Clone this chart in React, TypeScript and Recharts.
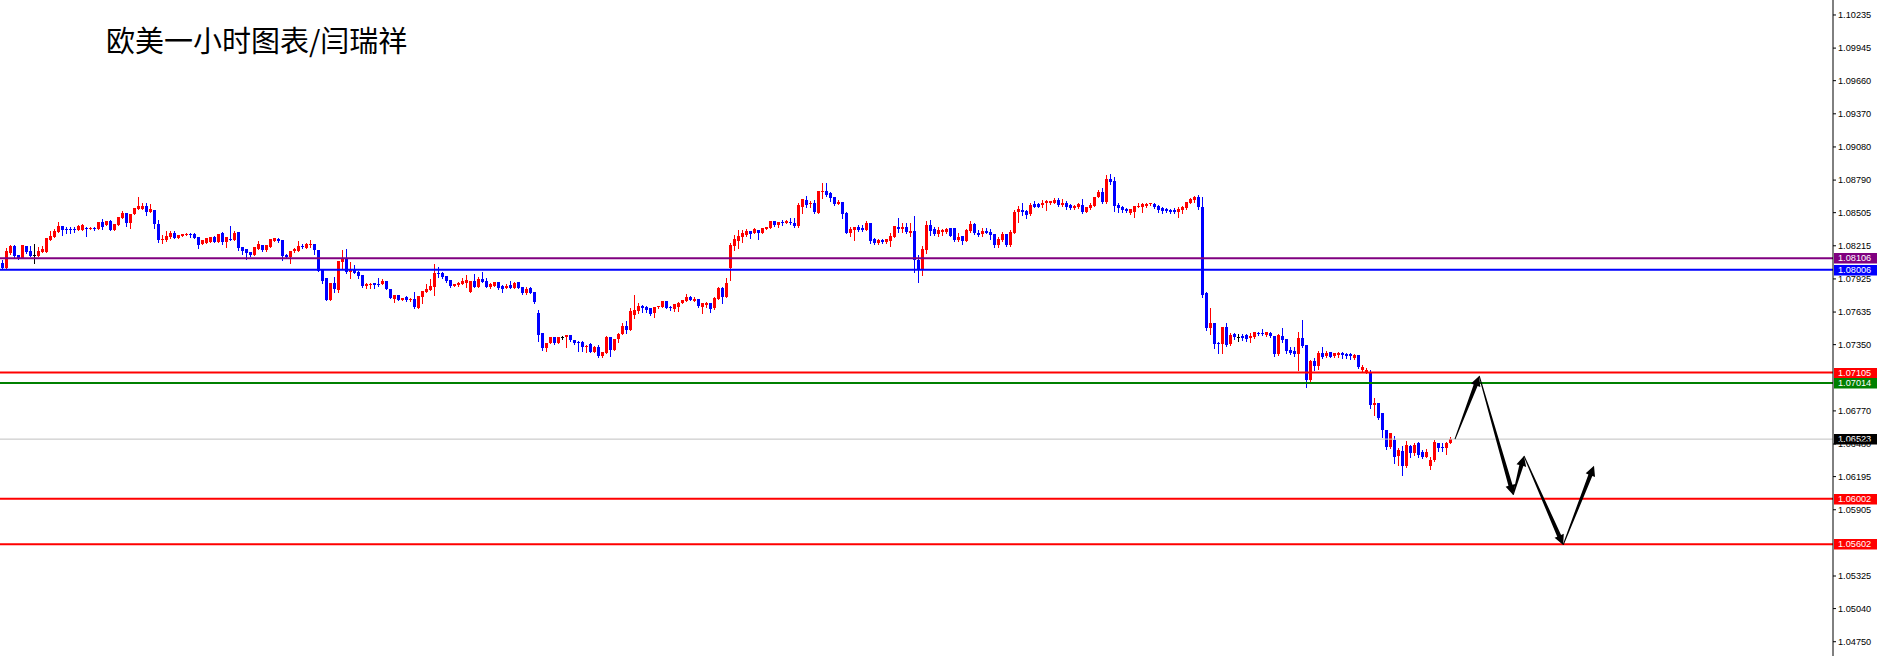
import React from "react";
import { ComposedChart, Bar, XAxis, YAxis, ReferenceLine } from "recharts";

// EURUSD H1 candles (oldest first)
const opens = [
  1.08065, 1.08021, 1.08152, 1.08214, 1.08135, 1.08108, 1.08214, 1.0817, 1.08135, 1.08126,
  1.08161, 1.08161, 1.08266, 1.08292, 1.08336, 1.08389, 1.08362, 1.08362, 1.08362, 1.08354,
  1.08354, 1.08371, 1.08362, 1.08371, 1.08362, 1.08424, 1.08397, 1.08432, 1.08354, 1.08397,
  1.08458, 1.08502, 1.08415, 1.08494, 1.08537, 1.08537, 1.08564, 1.08511, 1.08529, 1.08406,
  1.08266, 1.08266, 1.08292, 1.08327, 1.08284, 1.08301, 1.0831, 1.08319, 1.08319, 1.08292,
  1.08231, 1.0824, 1.08249, 1.08292, 1.08249, 1.08327, 1.08249, 1.08275, 1.08266, 1.08336,
  1.08205, 1.08187, 1.08161, 1.08135, 1.08187, 1.08222, 1.08179, 1.08205, 1.08257, 1.08275,
  1.08266, 1.08135, 1.08117, 1.0817, 1.0817, 1.08214, 1.08196, 1.08222, 1.08231, 1.08179,
  1.08004, 1.07934, 1.07741, 1.0789, 1.07829, 1.08074, 1.08108, 1.07986, 1.08012, 1.07986,
  1.0796, 1.07864, 1.07872, 1.0789, 1.07881, 1.07881, 1.07907, 1.07837, 1.0775, 1.07785,
  1.07741, 1.07767, 1.07741, 1.0775, 1.07671, 1.07767, 1.07811, 1.07829, 1.07855, 1.07977,
  1.07977, 1.07951, 1.07916, 1.07864, 1.07872, 1.07881, 1.0789, 1.07811, 1.07907, 1.07855,
  1.07925, 1.07907, 1.07855, 1.07864, 1.07899, 1.07864, 1.07846, 1.07872, 1.07846, 1.07899,
  1.07855, 1.07802, 1.07846, 1.07811, 1.07627, 1.07452, 1.07321, 1.07365, 1.07417, 1.07365,
  1.07417, 1.07417, 1.07435, 1.07391, 1.07374, 1.07374, 1.0733, 1.07356, 1.07286, 1.0733,
  1.07251, 1.07277, 1.07417, 1.07304, 1.074, 1.07444, 1.07514, 1.07479, 1.0761, 1.07645,
  1.07689, 1.0768, 1.07671, 1.07627, 1.0768, 1.0768, 1.07732, 1.0768, 1.07662, 1.0768,
  1.07715, 1.07732, 1.07767, 1.07732, 1.0775, 1.0768, 1.07697, 1.07715, 1.07671, 1.0775,
  1.07846, 1.07767, 1.08021, 1.08214, 1.08257, 1.08292, 1.0831, 1.08345, 1.08327, 1.08354,
  1.08327, 1.08362, 1.08371, 1.08432, 1.08397, 1.08424, 1.08415, 1.08424, 1.08415, 1.08389,
  1.08555, 1.08616, 1.08581, 1.0859, 1.08502, 1.08686, 1.08695, 1.08677, 1.08642, 1.08581,
  1.08599, 1.08502, 1.08327, 1.08354, 1.0838, 1.08371, 1.08354, 1.08415, 1.08275, 1.0824,
  1.08266, 1.08249, 1.08257, 1.08292, 1.0838, 1.08362, 1.0838, 1.08327, 1.08345, 1.08091,
  1.08004, 1.08179, 1.08397, 1.08362, 1.08319, 1.08336, 1.08336, 1.08371, 1.08371, 1.08266,
  1.08301, 1.08257, 1.08345, 1.08406, 1.08327, 1.08319, 1.08345, 1.08336, 1.08319, 1.08222,
  1.08266, 1.08319, 1.08222, 1.08327, 1.08511, 1.08529, 1.0852, 1.08494, 1.08581, 1.08581,
  1.08572, 1.0859, 1.0859, 1.0859, 1.08616, 1.08572, 1.0859, 1.08572, 1.08546, 1.08555,
  1.08572, 1.08511, 1.08546, 1.08564, 1.08642, 1.08686, 1.08599, 1.088, 1.08782, 1.08572,
  1.08555, 1.08537, 1.08502, 1.08511, 1.08555, 1.08555, 1.08564, 1.08581, 1.08581, 1.08564,
  1.08546, 1.08537, 1.08529, 1.08529, 1.08511, 1.08529, 1.08546, 1.0859, 1.08616, 1.08642,
  1.08555, 1.07802, 1.07496, 1.0754, 1.07365, 1.07356, 1.07505, 1.07356, 1.07444, 1.07417,
  1.07426, 1.07435, 1.07409, 1.07417, 1.07452, 1.07452, 1.07435, 1.07452, 1.07426, 1.07269,
  1.07426, 1.074, 1.07304, 1.07295, 1.07269, 1.07409, 1.07347, 1.07041, 1.07207, 1.07164,
  1.07277, 1.07251, 1.07286, 1.07251, 1.0726, 1.07277, 1.07269, 1.07269, 1.07234, 1.0726,
  1.07129, 1.07111, 1.07111, 1.06822, 1.0684, 1.06752, 1.06604, 1.06455, 1.06516, 1.06376,
  1.0642, 1.06289, 1.06464, 1.06402, 1.0649, 1.06411, 1.06367, 1.06289, 1.06341, 1.0649,
  1.06455, 1.06446, 1.0649,
];

const highs = [
  1.08091, 1.08196, 1.08222, 1.08222, 1.08135, 1.08222, 1.08214, 1.08214, 1.08231, 1.08205,
  1.08214, 1.08284, 1.08345, 1.08362, 1.08424, 1.08389, 1.0838, 1.0838, 1.0838, 1.08397,
  1.08406, 1.0838, 1.0838, 1.0838, 1.08424, 1.0845, 1.08432, 1.08441, 1.08406, 1.08467,
  1.0852, 1.08502, 1.08494, 1.08546, 1.08642, 1.0859, 1.0859, 1.08581, 1.08529, 1.08441,
  1.0831, 1.08345, 1.08345, 1.08345, 1.0831, 1.08319, 1.08327, 1.08327, 1.08327, 1.08292,
  1.08266, 1.08284, 1.08292, 1.08301, 1.08319, 1.08336, 1.08292, 1.08389, 1.08345, 1.08336,
  1.08205, 1.08187, 1.08161, 1.08205, 1.08257, 1.08222, 1.08222, 1.08275, 1.08284, 1.08284,
  1.08266, 1.08143, 1.0817, 1.08196, 1.08257, 1.08231, 1.0824, 1.08266, 1.08231, 1.08179,
  1.08004, 1.07934, 1.0789, 1.07942, 1.08082, 1.08179, 1.08187, 1.08074, 1.08047, 1.07995,
  1.0796, 1.0789, 1.0789, 1.0789, 1.07934, 1.07925, 1.07907, 1.07837, 1.07785, 1.07785,
  1.07758, 1.07776, 1.07758, 1.07811, 1.07776, 1.0782, 1.07881, 1.07925, 1.08056, 1.0803,
  1.07986, 1.07951, 1.07916, 1.07881, 1.07899, 1.07934, 1.0796, 1.07907, 1.07969, 1.07942,
  1.07986, 1.07934, 1.0789, 1.07899, 1.07899, 1.07872, 1.07881, 1.07907, 1.07899, 1.07899,
  1.07855, 1.07855, 1.07855, 1.07811, 1.07654, 1.07452, 1.07365, 1.07417, 1.07417, 1.07417,
  1.07426, 1.07435, 1.07435, 1.07391, 1.07382, 1.07382, 1.07347, 1.07365, 1.07339, 1.07347,
  1.07286, 1.07426, 1.07417, 1.074, 1.07452, 1.0754, 1.07557, 1.07671, 1.07785, 1.07715,
  1.07697, 1.07689, 1.07671, 1.0768, 1.07689, 1.07732, 1.07732, 1.07689, 1.07706, 1.07724,
  1.07741, 1.07794, 1.07776, 1.07767, 1.0775, 1.07715, 1.07724, 1.07715, 1.07767, 1.07855,
  1.07855, 1.07934, 1.0824, 1.0831, 1.08354, 1.08354, 1.08362, 1.08345, 1.08371, 1.08354,
  1.08371, 1.0838, 1.08432, 1.08432, 1.08424, 1.08441, 1.08441, 1.08458, 1.08458, 1.0859,
  1.08625, 1.08651, 1.08607, 1.08616, 1.08695, 1.08765, 1.08765, 1.08686, 1.08642, 1.08616,
  1.08599, 1.08511, 1.0838, 1.0838, 1.08397, 1.08397, 1.08432, 1.08415, 1.08284, 1.08275,
  1.08275, 1.08275, 1.08327, 1.08389, 1.08458, 1.08415, 1.08415, 1.08415, 1.08476, 1.08135,
  1.08214, 1.08432, 1.08441, 1.0838, 1.0838, 1.08362, 1.08371, 1.08371, 1.08371, 1.08327,
  1.08301, 1.08362, 1.08432, 1.08415, 1.08354, 1.08371, 1.08371, 1.08362, 1.08319, 1.08292,
  1.08336, 1.08319, 1.08354, 1.08529, 1.08564, 1.0859, 1.08529, 1.0859, 1.08607, 1.0859,
  1.08616, 1.08616, 1.08607, 1.08634, 1.08634, 1.08625, 1.08607, 1.08581, 1.08572, 1.0859,
  1.08625, 1.08555, 1.0859, 1.08642, 1.08704, 1.08721, 1.08835, 1.08844, 1.08817, 1.0859,
  1.08564, 1.08546, 1.08537, 1.08564, 1.0859, 1.0859, 1.0859, 1.0859, 1.0859, 1.08572,
  1.08555, 1.08546, 1.08537, 1.08546, 1.08555, 1.08564, 1.08599, 1.08634, 1.08651, 1.0866,
  1.08642, 1.07811, 1.07671, 1.0754, 1.07374, 1.07505, 1.0754, 1.07452, 1.07452, 1.07444,
  1.07444, 1.07444, 1.07452, 1.07461, 1.07461, 1.07487, 1.07461, 1.07461, 1.07426, 1.07444,
  1.07496, 1.074, 1.0733, 1.0733, 1.07461, 1.07566, 1.07347, 1.07216, 1.07234, 1.07295,
  1.0733, 1.07295, 1.07286, 1.07277, 1.07286, 1.07286, 1.07277, 1.07277, 1.07269, 1.0726,
  1.07172, 1.07146, 1.07129, 1.06883, 1.0684, 1.06752, 1.06604, 1.06577, 1.06551, 1.06446,
  1.06464, 1.06507, 1.06472, 1.0649, 1.06499, 1.06429, 1.06437, 1.06367, 1.06516, 1.0649,
  1.0649, 1.06499, 1.06542,
];

const lows = [
  1.08012, 1.08012, 1.08143, 1.08117, 1.081, 1.08108, 1.08152, 1.08126, 1.08065, 1.08126,
  1.08161, 1.08161, 1.08266, 1.08292, 1.08336, 1.0831, 1.08327, 1.08327, 1.08336, 1.08354,
  1.08354, 1.08301, 1.08362, 1.08354, 1.08362, 1.08362, 1.08397, 1.08354, 1.08354, 1.08397,
  1.08458, 1.08389, 1.08371, 1.08494, 1.08537, 1.08537, 1.08485, 1.08511, 1.08371, 1.08249,
  1.0824, 1.08257, 1.08284, 1.08284, 1.08284, 1.08301, 1.0831, 1.08292, 1.08284, 1.08196,
  1.08231, 1.0824, 1.08249, 1.08249, 1.08249, 1.08231, 1.08205, 1.08266, 1.08266, 1.08179,
  1.08143, 1.081, 1.08126, 1.08135, 1.08187, 1.0817, 1.0817, 1.08205, 1.08257, 1.08249,
  1.08091, 1.08117, 1.08065, 1.08161, 1.0817, 1.08196, 1.08196, 1.08205, 1.08143, 1.07995,
  1.0789, 1.07741, 1.07741, 1.07811, 1.07811, 1.08021, 1.07977, 1.07934, 1.07977, 1.07934,
  1.07855, 1.07846, 1.07846, 1.07846, 1.07864, 1.07881, 1.07837, 1.07758, 1.07724, 1.07741,
  1.07741, 1.07732, 1.07732, 1.07671, 1.07671, 1.07715, 1.07811, 1.07829, 1.07785, 1.07942,
  1.07934, 1.07899, 1.07855, 1.07864, 1.07864, 1.07881, 1.07855, 1.07811, 1.07855, 1.07855,
  1.07899, 1.07855, 1.07846, 1.07864, 1.07837, 1.07811, 1.07846, 1.07846, 1.07846, 1.07846,
  1.07794, 1.07794, 1.07802, 1.07715, 1.07382, 1.07304, 1.07295, 1.07365, 1.07356, 1.07365,
  1.074, 1.0733, 1.07382, 1.07356, 1.07295, 1.07295, 1.07286, 1.07286, 1.07286, 1.07242,
  1.07242, 1.07277, 1.07251, 1.07304, 1.07374, 1.07444, 1.07452, 1.07479, 1.07584, 1.07627,
  1.07636, 1.07636, 1.0761, 1.07592, 1.07671, 1.0768, 1.07671, 1.07654, 1.07645, 1.07645,
  1.07715, 1.07732, 1.07741, 1.07732, 1.0768, 1.07627, 1.0768, 1.07636, 1.07662, 1.0775,
  1.07715, 1.07767, 1.07916, 1.08179, 1.08196, 1.08249, 1.08301, 1.08284, 1.08327, 1.08275,
  1.08327, 1.08362, 1.08371, 1.08389, 1.0838, 1.08397, 1.08415, 1.08406, 1.0838, 1.0838,
  1.08502, 1.08555, 1.08555, 1.08502, 1.08502, 1.08634, 1.08651, 1.08607, 1.08572, 1.08581,
  1.08458, 1.08327, 1.08301, 1.08266, 1.08345, 1.08345, 1.08354, 1.0824, 1.08231, 1.08231,
  1.0824, 1.0824, 1.08214, 1.08292, 1.08336, 1.08336, 1.08327, 1.08301, 1.07986, 1.07899,
  1.0796, 1.08152, 1.0831, 1.0831, 1.08301, 1.0831, 1.08327, 1.08301, 1.08257, 1.08257,
  1.08231, 1.08257, 1.08336, 1.08319, 1.08301, 1.08301, 1.08327, 1.08275, 1.08205, 1.08205,
  1.08257, 1.08214, 1.08214, 1.08327, 1.08424, 1.08485, 1.08458, 1.08485, 1.08555, 1.08555,
  1.08555, 1.08529, 1.08581, 1.0859, 1.08564, 1.08564, 1.08537, 1.08537, 1.08537, 1.08546,
  1.08502, 1.08511, 1.08537, 1.08564, 1.08642, 1.0859, 1.0859, 1.08756, 1.0852, 1.08511,
  1.08511, 1.08511, 1.08494, 1.08467, 1.08555, 1.08511, 1.08555, 1.08572, 1.08546, 1.08511,
  1.08502, 1.08511, 1.08502, 1.08502, 1.08467, 1.08502, 1.08537, 1.0859, 1.08599, 1.08537,
  1.07767, 1.07479, 1.07444, 1.07321, 1.07277, 1.07277, 1.07339, 1.07347, 1.074, 1.07382,
  1.07391, 1.07382, 1.07374, 1.07409, 1.07435, 1.07435, 1.07426, 1.07417, 1.07251, 1.0726,
  1.07374, 1.07277, 1.07269, 1.07251, 1.07129, 1.0733, 1.0698, 1.07015, 1.07129, 1.07137,
  1.07234, 1.07242, 1.07242, 1.07242, 1.07242, 1.07234, 1.07234, 1.07225, 1.07225, 1.07146,
  1.0712, 1.07102, 1.06796, 1.06735, 1.067, 1.06542, 1.06437, 1.06446, 1.06315, 1.06297,
  1.0621, 1.0628, 1.06367, 1.06385, 1.06367, 1.06359, 1.06367, 1.06262, 1.06332, 1.0642,
  1.0642, 1.06394, 1.0649,
];

const closes = [
  1.08021, 1.0817, 1.08214, 1.08126, 1.08108, 1.08222, 1.08161, 1.08126, 1.08135, 1.0817,
  1.08187, 1.08284, 1.08301, 1.08345, 1.08389, 1.08354, 1.08354, 1.08354, 1.08354, 1.08389,
  1.08397, 1.08362, 1.08371, 1.08362, 1.08424, 1.0838, 1.08432, 1.08354, 1.08406, 1.08467,
  1.08502, 1.08415, 1.08494, 1.08546, 1.08564, 1.08564, 1.08511, 1.08537, 1.08406, 1.08266,
  1.08275, 1.08301, 1.08327, 1.08284, 1.0831, 1.08319, 1.08319, 1.0831, 1.08284, 1.08222,
  1.08266, 1.08284, 1.08292, 1.08249, 1.08319, 1.08249, 1.08292, 1.08266, 1.08327, 1.08196,
  1.0817, 1.08152, 1.08135, 1.08205, 1.08231, 1.08179, 1.08222, 1.08275, 1.08284, 1.08257,
  1.08126, 1.08117, 1.0817, 1.08187, 1.08214, 1.08205, 1.08231, 1.08231, 1.08179, 1.07995,
  1.07907, 1.07741, 1.0789, 1.07837, 1.08082, 1.08108, 1.07986, 1.08012, 1.07977, 1.07951,
  1.07864, 1.07881, 1.07881, 1.07872, 1.07872, 1.07907, 1.07837, 1.07758, 1.07785, 1.07741,
  1.07758, 1.07741, 1.0775, 1.0768, 1.07776, 1.0782, 1.07837, 1.07864, 1.07977, 1.07969,
  1.07942, 1.07907, 1.07864, 1.07881, 1.0789, 1.07907, 1.07916, 1.07907, 1.07855, 1.07925,
  1.07899, 1.07855, 1.07881, 1.07899, 1.07846, 1.07837, 1.07864, 1.07846, 1.0789, 1.07846,
  1.07802, 1.07837, 1.07802, 1.07724, 1.07435, 1.07321, 1.07365, 1.07417, 1.07365, 1.07417,
  1.07417, 1.07435, 1.07391, 1.07365, 1.07365, 1.0733, 1.07339, 1.07286, 1.0733, 1.07251,
  1.07286, 1.07417, 1.07304, 1.074, 1.07444, 1.07514, 1.07479, 1.07645, 1.07654, 1.07689,
  1.07671, 1.07654, 1.07619, 1.0768, 1.07689, 1.07732, 1.07671, 1.07671, 1.07706, 1.07715,
  1.07741, 1.07767, 1.07741, 1.0775, 1.07689, 1.07715, 1.07715, 1.07662, 1.07758, 1.07846,
  1.07767, 1.0789, 1.08222, 1.08275, 1.08301, 1.08327, 1.08345, 1.08319, 1.08362, 1.08327,
  1.08371, 1.0838, 1.08432, 1.08397, 1.08424, 1.08415, 1.08432, 1.08415, 1.08389, 1.08572,
  1.08625, 1.08572, 1.0859, 1.08511, 1.08695, 1.08695, 1.0866, 1.08634, 1.08581, 1.08599,
  1.08494, 1.08327, 1.08362, 1.0838, 1.08354, 1.08354, 1.08415, 1.08257, 1.0824, 1.08266,
  1.08249, 1.08275, 1.08301, 1.08389, 1.08362, 1.0838, 1.08336, 1.08345, 1.08091, 1.08004,
  1.08187, 1.08397, 1.08345, 1.08319, 1.08354, 1.08354, 1.08362, 1.08301, 1.08266, 1.08292,
  1.08257, 1.08354, 1.08406, 1.08327, 1.0831, 1.08345, 1.08327, 1.0831, 1.08222, 1.08275,
  1.08319, 1.08222, 1.08336, 1.08511, 1.08537, 1.08511, 1.08485, 1.08572, 1.08555, 1.08555,
  1.0859, 1.08607, 1.08607, 1.08616, 1.08572, 1.0859, 1.08555, 1.08546, 1.08564, 1.08581,
  1.08511, 1.08555, 1.08572, 1.08642, 1.08686, 1.08599, 1.088, 1.08774, 1.08564, 1.08546,
  1.08529, 1.0852, 1.08537, 1.08564, 1.08564, 1.08581, 1.08581, 1.0859, 1.08555, 1.08529,
  1.0852, 1.0852, 1.08511, 1.08511, 1.08537, 1.08555, 1.08599, 1.08625, 1.08642, 1.08555,
  1.07785, 1.07496, 1.0754, 1.07356, 1.07356, 1.07505, 1.07347, 1.07435, 1.07417, 1.07417,
  1.07409, 1.074, 1.07426, 1.07461, 1.07444, 1.07444, 1.07461, 1.07426, 1.07269, 1.07435,
  1.07391, 1.07295, 1.07277, 1.07269, 1.07409, 1.07339, 1.07041, 1.07207, 1.07164, 1.07277,
  1.07242, 1.07277, 1.07242, 1.07277, 1.07277, 1.0726, 1.07251, 1.07251, 1.0726, 1.07155,
  1.07155, 1.07129, 1.06822, 1.0684, 1.06709, 1.06604, 1.06455, 1.06577, 1.06367, 1.06429,
  1.06289, 1.06472, 1.06402, 1.06472, 1.06385, 1.06367, 1.06411, 1.06341, 1.06499, 1.06446,
  1.06446, 1.0649, 1.06523,
];

const priceTicks = [
  1.10235, 1.09945, 1.0966, 1.0937, 1.0908, 1.0879, 1.08505, 1.08215, 1.07925, 1.07635,
  1.0735, 1.0677, 1.0648, 1.06195, 1.05905, 1.05325, 1.0504, 1.0475,
];

// horizontal levels drawn on the chart, and the current bid
const levelPrices = [1.08106, 1.08006, 1.07105, 1.07014, 1.06002, 1.05602];
const bidPrice = 1.06523;

// hand-drawn forecast path (bar index, price)
const pathX = [363.25, 369.3, 377.8, 380.5, 390.3, 398];
const pathY = [1.06523, 1.07076, 1.06035, 1.06376, 1.05597, 1.06289];

const levelColors = ["#800080", "#0000FF", "#FF0000", "#008000", "#FF0000", "#FF0000"];
const axisFont = "'Liberation Sans', Arial, sans-serif";

const data = opens.map((o, i) => ({
  i,
  open: o,
  high: highs[i],
  low: lows[i],
  close: closes[i],
  range: [lows[i], highs[i]],
}));

function Candle(props: any) {
  const { x, y, width, height, payload } = props;
  if (x == null || y == null || !payload) return null;
  const { open, close, high, low } = payload;
  const top = Math.min(y, y + height);
  const h = Math.abs(height);
  const span = high - low;
  const py = (v: number) => (span > 0 ? top + ((high - v) / span) * h : top);
  const cx = Math.round(x + width / 2) + 0.5;
  const color = close > open ? "#FF0000" : close < open ? "#0000FF" : "#000000";
  const yo = py(open);
  const yc = py(close);
  const bt = Math.round(Math.min(yo, yc));
  const bh = Math.max(1, Math.round(Math.abs(yo - yc)));
  return (
    <g>
      <line
        x1={cx}
        x2={cx}
        y1={Math.round(top)}
        y2={Math.round(top + h) + 1}
        stroke={color}
        strokeWidth={1}
        shapeRendering="crispEdges"
      />
      <rect x={cx - 1.5} y={bt} width={3} height={bh} fill={color} shapeRendering="crispEdges" />
    </g>
  );
}

function PriceTick(props: any) {
  const { x, y, payload } = props;
  return (
    <text x={x} y={y} dy={3.3} fontSize={9.2} fontFamily={axisFont} fill="#000">
      {Number(payload.value).toFixed(5)}
    </text>
  );
}

function PriceTag(props: any) {
  const { viewBox, value, fill } = props;
  if (!viewBox) return null;
  const left = viewBox.x + viewBox.width + 1;
  const cy = Math.round(viewBox.y);
  return (
    <g>
      <rect x={left} y={cy - 5} width={44} height={10.5} fill={fill} />
      <text x={left + 4} y={cy + 3.4} fontSize={9.2} fontFamily={axisFont} fill="#FFFFFF">
        {value.toFixed(5)}
      </text>
    </g>
  );
}

// tapered arrow, thin at the start and heavy at the head
function Arrow(props: any) {
  const { x1, y1, x2, y2 } = props;
  if ([x1, y1, x2, y2].some((v) => v == null || Number.isNaN(v))) return null;
  const dx = x2 - x1;
  const dy = y2 - y1;
  const len = Math.hypot(dx, dy) || 1;
  const ux = dx / len;
  const uy = dy / len;
  const nx = -uy;
  const ny = ux;
  const headLen = 10;
  const bx = x2 - ux * headLen;
  const by = y2 - uy * headLen;
  const pts = [
    [x1 + nx * 0.5, y1 + ny * 0.5],
    [bx + nx * 2.1, by + ny * 2.1],
    [bx + nx * 5, by + ny * 5],
    [x2, y2],
    [bx - nx * 5, by - ny * 5],
    [bx - nx * 2.1, by - ny * 2.1],
    [x1 - nx * 0.5, y1 - ny * 0.5],
  ];
  return <polygon points={pts.map((p) => p.join(",")).join(" ")} fill="#000" />;
}

export default function App() {
  return (
    <div style={{ position: "absolute", left: 0, top: 0, width: 1877, height: 656, background: "#fff" }}>
      <ComposedChart width={1877} height={656} data={data} margin={{ top: 0, right: 0, bottom: 0, left: 0 }}>
        <XAxis type="number" dataKey="i" domain={[-0.5, 457.75]} hide allowDataOverflow />
        <YAxis
          orientation="right"
          type="number"
          domain={[1.04625, 1.10366]}
          ticks={priceTicks}
          interval={0}
          width={44}
          tickSize={3}
          tickMargin={2}
          allowDataOverflow
          axisLine={{ stroke: "#000" }}
          tickLine={{ stroke: "#000" }}
          tick={<PriceTick />}
        />
        <Bar dataKey="range" barSize={3} shape={(p: any) => <Candle {...p} />} isAnimationActive={false} />
        <ReferenceLine
          y={bidPrice}
          stroke="#C0C0C0"
          strokeWidth={1}
          label={<PriceTag value={bidPrice} fill="#000000" />}
        />
        {levelPrices.map((p, k) => (
          <ReferenceLine
            key={p}
            y={p}
            stroke={levelColors[k]}
            strokeWidth={2}
            label={<PriceTag value={p} fill={levelColors[k]} />}
          />
        ))}
        {pathX.slice(1).map((x, k) => (
          <ReferenceLine
            key={"arrow" + k}
            segment={[
              { x: pathX[k], y: pathY[k] },
              { x, y: pathY[k + 1] },
            ]}
            ifOverflow="visible"
            shape={(p: any) => <Arrow {...p} />}
          />
        ))}
      </ComposedChart>
      <div
        style={{
          position: "absolute",
          left: 106,
          top: 25,
          fontFamily: "'Noto Sans CJK SC', sans-serif",
          fontSize: 29,
          lineHeight: "29px",
          color: "#000",
          whiteSpace: "nowrap",
        }}
      >
        欧美一小时图表/闫瑞祥
      </div>
    </div>
  );
}
